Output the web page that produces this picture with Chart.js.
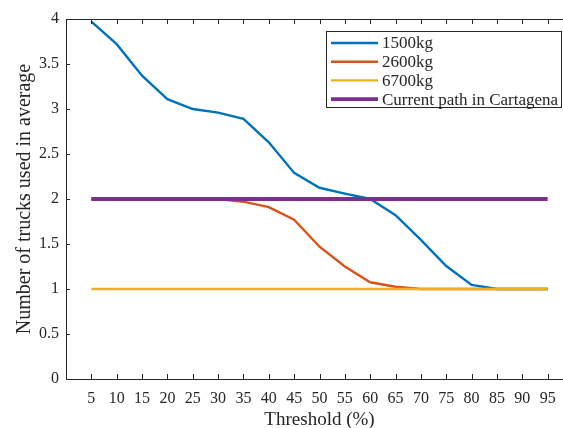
<!DOCTYPE html>
<html>
<head>
<meta charset="utf-8">
<script src="https://cdn.jsdelivr.net/npm/chart.js@4/dist/chart.umd.min.js"></script>
<style>
  html, body { margin: 0; padding: 0; background: #fff; overflow: hidden; }
  #wrap { width: 580px; height: 428px; }
</style>
</head>
<body>
<div id="wrap"><canvas id="truckChart" width="580" height="428"></canvas></div>
<script>
// thresholds (%) on the x axis
const thresholds = [5, 10, 15, 20, 25, 30, 35, 40, 45, 50, 55, 60, 65, 70, 75, 80, 85, 90, 95];
const trucks1500 = [3.97, 3.72, 3.37, 3.11, 3.0, 2.96, 2.89, 2.63, 2.29, 2.125, 2.06, 2.0, 1.82, 1.545, 1.255, 1.045, 1.0, 1.0, 1.0];
const trucks2600 = [2, 2, 2, 2, 2, 2, 1.97, 1.91, 1.77, 1.47, 1.25, 1.075, 1.025, 1.0, 1.0, 1.0, 1.0, 1.0, 1.0];
const trucks6700 = [1, 1, 1, 1, 1, 1, 1, 1, 1, 1, 1, 1, 1, 1, 1, 1, 1, 1, 1];
const currentPath = [2, 2, 2, 2, 2, 2, 2, 2, 2, 2, 2, 2, 2, 2, 2, 2, 2, 2, 2];
const yTicks = [0, 0.5, 1, 1.5, 2, 2.5, 3, 3.5, 4];

const FONT = "'Liberation Serif', 'DejaVu Serif', serif";
const INK = "#262626";

const toPoints = (arr) => arr.map((v, i) => ({ x: thresholds[i], y: v }));

// box, inward ticks and in-plot legend, matlab style
const boxPlugin = {
  id: "boxPlugin",
  afterDraw(chart) {
    const { ctx, chartArea: a, scales } = chart;
    ctx.save();
    ctx.strokeStyle = INK;
    ctx.lineWidth = 1;
    ctx.beginPath();
    ctx.rect(a.left + 0.5, a.top + 0.5, a.right - a.left, a.bottom - a.top);
    ctx.stroke();

    ctx.beginPath();
    thresholds.forEach((t) => {
      const x = Math.round(scales.x.getPixelForValue(t)) + 0.5;
      ctx.moveTo(x, a.bottom);
      ctx.lineTo(x, a.bottom - 5);
      ctx.moveTo(x, a.top);
      ctx.lineTo(x, a.top + 5);
    });
    yTicks.forEach((t) => {
      const y = Math.round(scales.y.getPixelForValue(t)) + 0.5;
      ctx.moveTo(a.left, y);
      ctx.lineTo(a.left + 4, y);
      ctx.moveTo(a.right, y);
      ctx.lineTo(a.right - 4, y);
    });
    ctx.stroke();

    // legend box
    const lx = 326.5, ly = 31.5, lw = 235, lh = 76;
    ctx.fillStyle = "#fff";
    ctx.fillRect(lx, ly, lw, lh);
    ctx.strokeRect(lx, ly, lw, lh);
    ctx.font = "17px " + FONT;
    ctx.textBaseline = "middle";
    chart.data.datasets.forEach((ds, i) => {
      const y = 43 + i * 18.7;
      ctx.strokeStyle = ds.borderColor;
      ctx.lineWidth = ds.borderWidth;
      ctx.beginPath();
      ctx.moveTo(331, y);
      ctx.lineTo(378, y);
      ctx.stroke();
      ctx.fillStyle = INK;
      ctx.fillText(ds.label, 382, y + 1);
    });
    ctx.restore();
  },
};

const chart = new Chart(document.getElementById("truckChart"), {
  type: "line",
  data: {
    datasets: [
      { label: "1500kg", data: toPoints(trucks1500), borderColor: "#0072BD", borderWidth: 2.4, order: 3 },
      { label: "2600kg", data: toPoints(trucks2600), borderColor: "#D95319", borderWidth: 2.4, order: 2 },
      { label: "6700kg", data: toPoints(trucks6700), borderColor: "#EDB120", borderWidth: 2.4, order: 1 },
      { label: "Current path in Cartagena", data: toPoints(currentPath), borderColor: "#7E2F8E", borderWidth: 3.8, order: 0 },
    ],
  },
  options: {
    responsive: false,
    animation: false,
    devicePixelRatio: 1,
    elements: { point: { radius: 0 }, line: { tension: 0, fill: false } },
    layout: { padding: { top: 19, right: 7, left: 0, bottom: 0 } },
    plugins: { legend: { display: false }, tooltip: { enabled: false } },
    scales: {
      x: {
        type: "linear",
        min: 0,
        max: 100,
        afterBuildTicks: (s) => { s.ticks = thresholds.map((v) => ({ value: v })); },
        afterFit: (s) => { s.height = 49; },
        grid: { display: false, drawTicks: false },
        border: { display: false },
        ticks: { color: INK, font: { family: FONT, size: 16 }, padding: 10, maxRotation: 0, autoSkip: false },
        title: { display: true, text: "Threshold (%)", color: INK, font: { family: FONT, size: 19 }, padding: { top: 0, bottom: -3 } },
      },
      y: {
        min: 0,
        max: 4,
        afterBuildTicks: (s) => { s.ticks = yTicks.map((v) => ({ value: v })); },
        afterFit: (s) => { s.width = 66; },
        grid: { display: false, drawTicks: false },
        border: { display: false },
        ticks: { color: INK, font: { family: FONT, size: 16 }, padding: 7, callback: (v) => String(v) },
        title: { display: true, text: "Number of trucks used in average", color: INK, font: { family: FONT, size: 20 }, padding: { top: 13, bottom: 0 } },
      },
    },
  },
  plugins: [boxPlugin],
});
</script>
</body>
</html>
